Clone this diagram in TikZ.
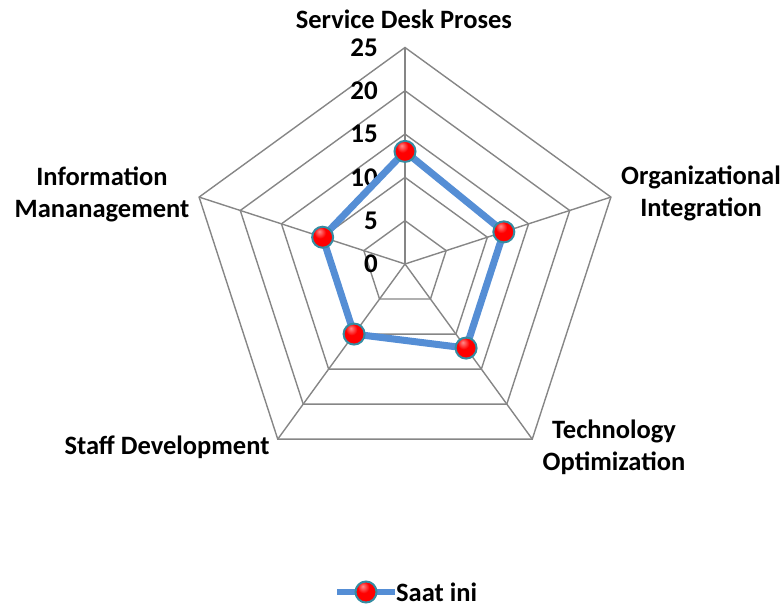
\documentclass[tikz,border=0pt]{standalone}
\usepackage{fontspec}
\setmainfont{Carlito}
\usetikzlibrary{calc}
\definecolor{gridgray}{RGB}{134,134,134}
\definecolor{seriesblue}{RGB}{85,142,213}
\definecolor{markerring}{RGB}{52,140,162}
\pgfdeclareradialshading{redball}{\pgfpoint{-8bp}{14bp}}{%
  color(0bp)=(red!45!white); color(14bp)=(red); color(38bp)=(red);
  color(50bp)=(red!78!black); color(70bp)=(red!70!black)}
\tikzset{
  gridline/.style={draw=gridgray, line width=1.4pt},
  series/.style={draw=seriesblue, line width=7pt, line join=round},
  marker/.style={circle, minimum size=21pt, inner sep=0pt, draw=markerring, line width=2pt, shading=redball},
  labelfont/.style={font=\fontsize{26.5}{32}\selectfont\bfseries, text=black},
  axislabel/.style={labelfont, align=center},
  ticklabel/.style={font=\fontsize{27}{30}\selectfont\bfseries, anchor=east, inner sep=0pt},
}
\begin{document}
\begin{tikzpicture}[x=1pt,y=1pt]
\useasboundingbox (0,0) rectangle (784,607);
\coordinate (c) at (405,343);
% five axes, starting at the top and going clockwise
\foreach \i/\a in {1/90,2/18,3/-54,4/-126,5/162}{
  \foreach \k in {1,...,5}{
    \coordinate (v\i-\k) at ($(c)+(\a:\k*43.3)$);
  }
}
% concentric pentagons
\foreach \k in {1,...,5}{
  \draw[gridline] (v1-\k) -- (v2-\k) -- (v3-\k) -- (v4-\k) -- (v5-\k) -- cycle;
}
% spokes
\foreach \i in {1,...,5}{
  \draw[gridline] (c) -- (v\i-5);
}
% scale labels
\node[ticklabel] (t0) at (378,343) {0};
\foreach \k/\v in {1/5,2/10,3/15,4/20,5/25}{
  \node[ticklabel] (t\v) at (378,{343+\k*43.3}) {\v};
}
% category labels
\node[axislabel] (lab1) at (404,588) {Service Desk Proses};
\node[axislabel] (lab2) at (701,414) {Organizational\\Integration};
\node[axislabel] (lab3) at (614,160) {Technology\\Optimization};
\node[axislabel] (lab4) at (167,160) {Staff Development};
\node[axislabel] (lab5) at (102,413) {Information\\Mananagement};
% data series
\coordinate (p1) at ($(c)+(90:13*8.66)$);
\coordinate (p2) at ($(c)+(18:12*8.66)$);
\coordinate (p3) at ($(c)+(-54:12*8.66)$);
\coordinate (p4) at ($(c)+(-126:10*8.66)$);
\coordinate (p5) at ($(c)+(162:10*8.66)$);
\draw[series] (p1) -- (p2) -- (p3) -- (p4) -- (p5) -- cycle;
\foreach \i in {1,...,5}{
  \node[marker] (m\i) at (p\i) {};
}
% legend
\coordinate (la) at (337,15);
\coordinate (lb) at (395,15);
\draw[series, line width=6pt] (la) -- (lb);
\node[marker] (lm) at ($(la)!0.5!(lb)$) {};
\node[labelfont, anchor=west, inner sep=1pt] (legtext) at (lb) {Saat ini};
\end{tikzpicture}
\end{document}
